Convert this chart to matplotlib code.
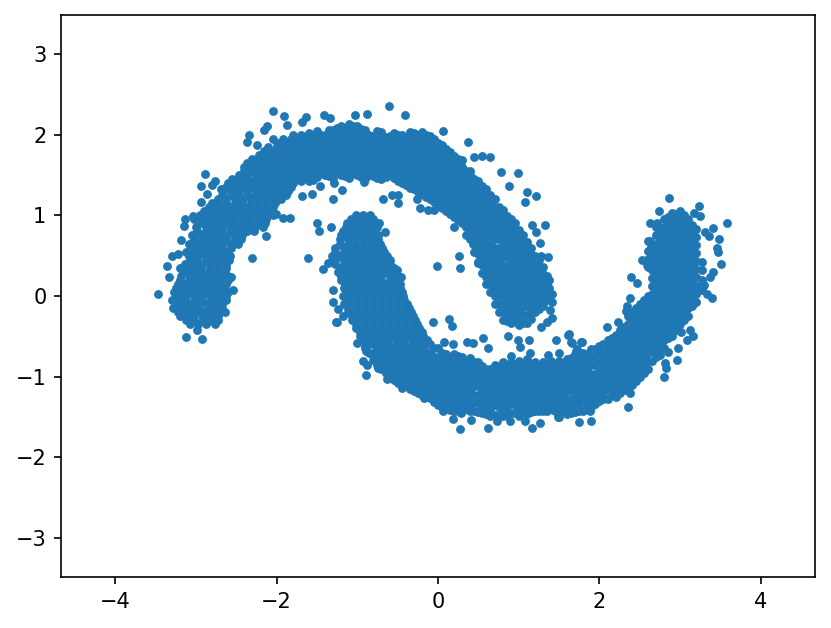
import matplotlib
matplotlib.use('Agg')
import matplotlib.pyplot as plt

# values, y: [x, ...] rows for the arms, x: [y, ...] columns for the arcs
upper_rows = {
    -0.35: [-3.07, -2.97, -2.87, -2.76],
    -0.3: [-3.12, -3.03, -2.92, -2.82, -2.73],
    -0.25: [-3.2, -3.11, -3.02, -2.91, -2.82, -2.72],
    -0.2: [-3.22, -3.12, -3.01, -2.92, -2.81, -2.72, -2.64],
    -0.15: [-3.28, -3.16, -3.06, -2.97, -2.86, -2.77, -2.68],
    -0.1: [-3.25, -3.16, -3.06, -2.96, -2.86, -2.77, -2.67],
    -0.05: [-3.3, -3.21, -3.12, -3.01, -2.92, -2.81, -2.72, -2.62],
    0.0: [-3.23, -3.13, -3.02, -2.92, -2.82, -2.72, -2.63],
    0.05: [-3.27, -3.17, -3.07, -2.96, -2.87, -2.77, -2.67, -2.6],
    0.1: [-3.25, -3.14, -3.04, -2.94, -2.85, -2.75, -2.65],
    0.15: [-3.22, -3.12, -3.02, -2.92, -2.83, -2.72, -2.63],
    0.2: [-3.19, -3.09, -2.99, -2.9, -2.8, -2.7, -2.6],
    0.25: [-3.18, -3.07, -2.97, -2.88, -2.78, -2.68, -2.6],
    0.3: [-3.14, -3.04, -2.94, -2.84, -2.74, -2.64],
    0.35: [-3.2, -3.12, -3.02, -2.93, -2.82, -2.73, -2.63],
    0.4: [-3.13, -3.03, -2.92, -2.82, -2.72, -2.62],
    0.45: [-3.07, -2.98, -2.87, -2.78, -2.68, -2.59],
    0.5: [-3.08, -2.97, -2.88, -2.78, -2.67, -2.58],
    0.55: [-3.12, -3.02, -2.93, -2.83, -2.73, -2.62],
    0.6: [-3.06, -2.97, -2.87, -2.78, -2.67, -2.56],
    0.65: [-3.08, -2.97, -2.88, -2.77, -2.68, -2.58, -2.48],
    0.7: [-3.02, -2.91, -2.82, -2.72, -2.62, -2.52, -2.44],
    0.75: [-3.05, -2.93, -2.83, -2.73, -2.63, -2.53, -2.43],
    0.8: [-2.98, -2.88, -2.78, -2.68, -2.57, -2.47, -2.37, -2.28],
    0.85: [-3.0, -2.88, -2.78, -2.68, -2.58, -2.48, -2.38, -2.27, -2.17],
    0.9: [-2.95, -2.84, -2.74, -2.64, -2.54, -2.44, -2.34, -2.24, -2.14],
    0.95: [-3.02, -2.92, -2.83, -2.72, -2.63, -2.53, -2.42, -2.33, -2.22, -2.13],
    1.0: [-2.95, -2.85, -2.74, -2.64, -2.54, -2.44, -2.34, -2.24, -2.14, -2.04],
    1.05: [-2.9, -2.78, -2.68, -2.58, -2.47, -2.37, -2.28, -2.17, -2.07],
    1.1: [-2.84, -2.74, -2.64, -2.54, -2.44, -2.34, -2.24, -2.14, -2.05],
    1.15: [-2.8, -2.72, -2.63, -2.52, -2.43, -2.32, -2.22, -2.12, -2.02],
    1.2: [-2.72, -2.62, -2.52, -2.42, -2.32, -2.22, -2.12, -2.02, -1.94],
    1.25: [-2.67, -2.57, -2.48, -2.37, -2.27, -2.17, -2.07, -1.97, -1.88],
    1.3: [-2.66, -2.56, -2.46, -2.36, -2.26, -2.16, -2.06, -1.96, -1.86],
    1.35: [-2.62, -2.52, -2.42, -2.32, -2.22, -2.12, -2.02, -1.92, -1.82],
    1.4: [-2.6, -2.5, -2.4, -2.3, -2.2, -2.1, -2.0, -1.9, -1.8],
    1.45: [-2.55, -2.45, -2.37, -2.27, -2.17, -2.07, -1.97, -1.87, -1.77],
    1.5: [-2.46, -2.36, -2.26, -2.16, -2.06, -1.96, -1.86, -1.76, -1.66],
    1.55: [-2.4, -2.32, -2.22, -2.12, -2.02, -1.92, -1.82, -1.72],
    1.6: [-2.4, -2.3, -2.2, -2.1, -2.0, -1.9, -1.8, -1.7],
    1.65: [-2.37, -2.27, -2.17, -2.07, -1.97, -1.87, -1.77, -1.67],
    1.7: [-2.3, -2.2, -2.1, -2.0, -1.9, -1.8, -1.7, -1.62],
    1.75: [-2.22, -2.12, -2.02, -1.92, -1.82, -1.72, -1.62],
    1.8: [-2.16, -2.06, -1.96, -1.86, -1.76, -1.66],
    1.85: [-2.1, -2.0, -1.9, -1.8, -1.7, -1.6],
    1.9: [-2.0, -1.9, -1.8, -1.7, -1.62],
    1.95: [-1.92, -1.82, -1.72, -1.62],
    2.0: [-1.8, -1.7],
}

upper_cols = {
    -1.7: [1.42, 1.52],
    -1.65: [1.47, 1.57, 1.67, 1.77, 1.87, 1.97],
    -1.6: [1.42, 1.52, 1.62, 1.72, 1.82, 1.92, 2.02],
    -1.55: [1.44, 1.54, 1.64, 1.74, 1.84, 1.94, 2.0],
    -1.5: [1.47, 1.57, 1.67, 1.76, 1.86, 1.96, 2.04],
    -1.45: [1.52, 1.62, 1.72, 1.81, 1.91, 2.0],
    -1.4: [1.5, 1.6, 1.7, 1.8, 1.9, 2.0],
    -1.35: [1.48, 1.57, 1.67, 1.77, 1.87, 1.97, 2.05],
    -1.3: [1.46, 1.55, 1.65, 1.75, 1.85, 1.95, 2.05],
    -1.25: [1.53, 1.63, 1.73, 1.83, 1.93, 2.03, 2.08],
    -1.2: [1.5, 1.6, 1.7, 1.8, 1.9, 2.0, 2.1],
    -1.15: [1.48, 1.58, 1.68, 1.78, 1.88, 1.98, 2.08],
    -1.1: [1.46, 1.55, 1.65, 1.75, 1.85, 1.95, 2.05, 2.13],
    -1.05: [1.52, 1.62, 1.72, 1.82, 1.92, 2.02, 2.11],
    -1.0: [1.5, 1.6, 1.7, 1.8, 1.9, 2.0, 2.1],
    -0.95: [1.47, 1.57, 1.67, 1.77, 1.87, 1.97, 2.07],
    -0.9: [1.45, 1.55, 1.65, 1.75, 1.85, 1.95, 2.05],
    -0.85: [1.5, 1.6, 1.7, 1.8, 1.9, 2.0],
    -0.8: [1.48, 1.58, 1.68, 1.78, 1.88, 1.98],
    -0.75: [1.46, 1.56, 1.66, 1.76, 1.86, 1.96, 2.04],
    -0.7: [1.45, 1.55, 1.65, 1.75, 1.85, 1.95, 2.03],
    -0.65: [1.47, 1.57, 1.67, 1.77, 1.87, 1.97],
    -0.6: [1.5, 1.6, 1.7, 1.8, 1.9, 1.98],
    -0.55: [1.46, 1.56, 1.66, 1.76, 1.86, 1.96, 2.02],
    -0.5: [1.42, 1.52, 1.62, 1.72, 1.82, 1.92, 2.0],
    -0.45: [1.4, 1.5, 1.6, 1.7, 1.8, 1.9, 2.0],
    -0.4: [1.37, 1.47, 1.57, 1.67, 1.77, 1.87, 1.97],
    -0.35: [1.34, 1.44, 1.54, 1.64, 1.74, 1.84, 1.94, 2.03],
    -0.3: [1.32, 1.42, 1.52, 1.62, 1.72, 1.82, 1.92, 2.02],
    -0.25: [1.29, 1.39, 1.49, 1.59, 1.69, 1.79, 1.89, 1.99],
    -0.2: [1.26, 1.36, 1.46, 1.56, 1.66, 1.76, 1.86, 1.96, 2.03],
    -0.15: [1.23, 1.33, 1.43, 1.53, 1.63, 1.73, 1.83, 1.93, 2.0],
    -0.1: [1.2, 1.3, 1.4, 1.5, 1.6, 1.7, 1.8, 1.9, 1.98],
    -0.05: [1.17, 1.27, 1.37, 1.47, 1.57, 1.67, 1.77, 1.87, 1.95],
    0.0: [1.13, 1.23, 1.33, 1.43, 1.53, 1.63, 1.73, 1.83, 1.9],
    0.05: [1.09, 1.19, 1.29, 1.39, 1.49, 1.59, 1.69, 1.79, 1.87],
    0.1: [1.05, 1.15, 1.25, 1.35, 1.45, 1.55, 1.65, 1.75, 1.82],
    0.15: [1.02, 1.12, 1.22, 1.32, 1.42, 1.52, 1.62, 1.71, 1.78],
    0.2: [0.98, 1.08, 1.18, 1.28, 1.38, 1.48, 1.58, 1.67, 1.74],
    0.25: [0.94, 1.04, 1.14, 1.24, 1.34, 1.44, 1.54, 1.64, 1.7],
    0.3: [0.9, 1.0, 1.1, 1.2, 1.3, 1.4, 1.5, 1.6, 1.68],
    0.35: [0.75, 0.85, 0.95, 1.05, 1.15, 1.25, 1.35, 1.45, 1.55],
    0.4: [0.7, 0.8, 0.9, 1.0, 1.1, 1.2, 1.3, 1.4, 1.5, 1.55],
    0.45: [0.55, 0.65, 0.75, 0.85, 0.95, 1.05, 1.15, 1.25, 1.35, 1.45],
    0.5: [0.42, 0.52, 0.62, 0.72, 0.82, 0.92, 1.02, 1.12, 1.22, 1.32, 1.42],
    0.55: [0.28, 0.38, 0.48, 0.58, 0.68, 0.78, 0.88, 0.98, 1.08, 1.18, 1.28, 1.36],
    0.6: [0.15, 0.24, 0.33, 0.43, 0.53, 0.63, 0.73, 0.83, 0.93, 1.03, 1.13, 1.23, 1.32],
    0.65: [0.05, 0.15, 0.25, 0.35, 0.45, 0.55, 0.65, 0.75, 0.85, 0.95, 1.05, 1.15, 1.25],
    0.7: [-0.1, 0.0, 0.1, 0.2, 0.3, 0.4, 0.5, 0.6, 0.7, 0.8, 0.9, 1.0, 1.1, 1.2],
    0.75: [-0.2, -0.1, 0.0, 0.1, 0.2, 0.3, 0.4, 0.5, 0.6, 0.7, 0.8, 0.9, 1.0, 1.1],
    0.8: [-0.3, -0.2, -0.1, 0.0, 0.09, 0.18, 0.28, 0.38, 0.48, 0.58, 0.68, 0.78, 0.88, 0.98, 1.06],
    0.85: [-0.31, -0.21, -0.11, -0.01, 0.09, 0.19, 0.29, 0.39, 0.49, 0.59, 0.69, 0.79, 0.89, 0.99],
    0.9: [-0.34, -0.25, -0.15, -0.05, 0.05, 0.15, 0.25, 0.35, 0.45, 0.55, 0.65, 0.75, 0.85, 0.95],
    0.95: [-0.3, -0.2, -0.1, 0.0, 0.1, 0.2, 0.3, 0.4, 0.5, 0.6, 0.7, 0.8, 0.9],
    1.0: [-0.36, -0.28, -0.18, -0.08, 0.02, 0.12, 0.22, 0.32, 0.42, 0.52, 0.62, 0.72, 0.82],
    1.05: [-0.34, -0.24, -0.14, -0.04, 0.06, 0.16, 0.26, 0.36, 0.46, 0.56, 0.66, 0.76],
    1.1: [-0.33, -0.23, -0.13, -0.03, 0.07, 0.17, 0.27, 0.37, 0.47, 0.57, 0.67],
    1.15: [-0.28, -0.18, -0.08, 0.02, 0.12, 0.22, 0.32, 0.42, 0.52, 0.6],
    1.2: [-0.2, -0.1, 0.0, 0.1, 0.2, 0.3, 0.4, 0.5],
    1.25: [-0.16, -0.06, 0.04, 0.14, 0.24, 0.34, 0.44],
    1.3: [-0.13, -0.03, 0.07, 0.17, 0.27, 0.36],
    1.35: [-0.05, 0.05, 0.15, 0.25],
    1.38: [0.0, 0.1, 0.2],
}

upper_stray_x = [-3.47, -3.12, -2.92, -2.98, -3.36, -3.29, -3.22, -3.33, -3.18, -3.14, -3.15, -3.03,
                 -2.93, -2.89, -2.76, -2.8, -2.86, -2.93, -2.69, -2.31, -2.54, -2.56, -2.13, -2.01,
                 -1.92, -1.83, -2.04, -1.91, -1.87, -2.12, -2.15, -2.34, -2.37, -2.24, -2.04, -1.63,
                 -1.69, -1.41, -1.34, -1.03, -0.88, -0.61, -0.41, 0.06, 0.37, 0.44, 0.54, 0.64,
                 0.78, 0.99, 0.88, 1.1, 1.21, 1.08, 1.16, 1.32, 1.22, 1.26, 1.36, 1.27,
                 1.41, 1.41, 1.39, 1.41, 1.28, 1.35, -0.01, 0.26, 0.27, -0.68, -0.57, -0.5,
                 -0.5, -0.22, -0.12, -0.05, -0.26, 0.05, 0.2, 0.43, 0.5, -1.3, -1.19, -1.29,
                 -0.92, -1.56, -1.69, -1.46]
upper_stray_y = [0.02, -0.51, -0.53, -0.42, 0.37, 0.5, 0.52, 0.24, 0.69, 0.95, 0.87, 0.99,
                 1.36, 1.51, 1.42, 1.37, 1.26, 1.17, 1.32, 0.47, 0.08, 0.23, 0.74, 1.01,
                 0.96, 0.97, 2.29, 2.23, 2.12, 2.11, 2.05, 2.0, 1.91, 1.87, 1.94, 2.22,
                 2.15, 2.24, 2.2, 2.24, 2.25, 2.35, 2.24, 2.04, 1.91, 1.72, 1.74, 1.72,
                 1.53, 1.52, 1.36, 1.29, 1.24, 1.17, 0.88, 0.88, 0.79, 0.66, 0.48, 0.49,
                 0.03, -0.08, -0.17, -0.27, -0.38, -0.32, 0.37, 0.5, 0.35, 1.2, 1.25, 1.25,
                 1.15, 1.09, 1.06, 1.06, 1.2, 1.13, 0.85, 0.65, 0.41, 1.2, 1.31, 1.4,
                 1.41, 1.26, 1.24, 1.36]

lower_rows = {
    1.0: [-1.02, -0.93, -0.84],
    0.95: [-1.08, -0.98, -0.89, -0.8],
    0.9: [-1.13, -1.03, -0.94, -0.84, -0.76],
    0.85: [-1.14, -1.04, -0.94, -0.84, -0.75],
    0.8: [-1.18, -1.08, -0.98, -0.88, -0.79],
    0.75: [-1.2, -1.1, -1.0, -0.9, -0.8, -0.74],
    0.7: [-1.22, -1.12, -1.03, -0.93, -0.83, -0.74],
    0.65: [-1.22, -1.12, -1.02, -0.92, -0.82, -0.72],
    0.6: [-1.27, -1.17, -1.07, -0.97, -0.87, -0.77, -0.69],
    0.55: [-1.27, -1.17, -1.07, -0.97, -0.87, -0.77, -0.67],
    0.5: [-1.31, -1.22, -1.12, -1.02, -0.92, -0.82, -0.72, -0.63],
    0.45: [-1.27, -1.17, -1.07, -0.97, -0.87, -0.77, -0.67, -0.6],
    0.4: [-1.27, -1.17, -1.07, -0.97, -0.87, -0.77, -0.67, -0.6],
    0.35: [-1.22, -1.12, -1.02, -0.92, -0.82, -0.72, -0.62, -0.55],
    0.3: [-1.24, -1.14, -1.04, -0.94, -0.84, -0.74, -0.64, -0.55],
    0.25: [-1.2, -1.1, -1.0, -0.9, -0.8, -0.7, -0.6, -0.5],
    0.2: [-1.2, -1.1, -1.0, -0.9, -0.8, -0.7, -0.6, -0.51],
    0.15: [-1.15, -1.05, -0.95, -0.85, -0.75, -0.65, -0.55, -0.47],
    0.1: [-1.17, -1.07, -0.97, -0.87, -0.77, -0.67, -0.57, -0.47],
    0.05: [-1.14, -1.04, -0.94, -0.84, -0.74, -0.64, -0.54, -0.44],
    0.0: [-1.18, -1.12, -1.02, -0.92, -0.82, -0.72, -0.62, -0.52, -0.43],
    -0.05: [-1.12, -1.02, -0.92, -0.82, -0.72, -0.62, -0.52, -0.42],
    -0.1: [-1.17, -1.07, -0.97, -0.87, -0.77, -0.67, -0.57, -0.47, -0.39],
    -0.15: [-1.12, -1.02, -0.92, -0.82, -0.72, -0.62, -0.52, -0.42, -0.36],
    -0.2: [-1.12, -1.02, -0.92, -0.82, -0.72, -0.62, -0.52, -0.42, -0.34],
    -0.25: [-1.07, -0.97, -0.87, -0.77, -0.67, -0.57, -0.47, -0.37, -0.31],
    -0.3: [-1.07, -0.97, -0.87, -0.77, -0.67, -0.57, -0.47, -0.37, -0.29],
    -0.35: [-1.02, -0.92, -0.82, -0.72, -0.62, -0.52, -0.42, -0.32, -0.26],
    -0.4: [-1.02, -0.92, -0.82, -0.72, -0.62, -0.52, -0.42, -0.32, -0.24],
    -0.45: [-0.97, -0.87, -0.77, -0.67, -0.57, -0.47, -0.37, -0.27, -0.2],
    -0.5: [-0.97, -0.87, -0.77, -0.67, -0.57, -0.47, -0.37, -0.27, -0.18],
    -0.55: [-0.92, -0.82, -0.72, -0.62, -0.52, -0.42, -0.32, -0.22, -0.14],
}

lower_cols = {
    -0.9: [-0.65, -0.62],
    -0.85: [-0.6, -0.7],
    -0.8: [-0.6, -0.7, -0.79],
    -0.75: [-0.65, -0.75, -0.85],
    -0.7: [-0.6, -0.7, -0.8, -0.9],
    -0.65: [-0.65, -0.75, -0.85, -0.95],
    -0.6: [-0.62, -0.71, -0.81, -0.91, -1.0],
    -0.55: [-0.65, -0.75, -0.85, -0.95, -1.04],
    -0.5: [-0.58, -0.68, -0.78, -0.88, -0.98, -1.08],
    -0.45: [-0.65, -0.75, -0.85, -0.95, -1.05],
    -0.4: [-0.62, -0.72, -0.82, -0.92, -1.02, -1.12],
    -0.35: [-0.65, -0.75, -0.85, -0.95, -1.05, -1.15],
    -0.3: [-0.58, -0.68, -0.78, -0.88, -0.98, -1.08, -1.18],
    -0.25: [-0.62, -0.72, -0.82, -0.92, -1.02, -1.12, -1.2],
    -0.2: [-0.55, -0.64, -0.74, -0.84, -0.94, -1.04, -1.14, -1.22],
    -0.15: [-0.6, -0.69, -0.79, -0.89, -0.99, -1.09, -1.19, -1.25],
    -0.1: [-0.6, -0.7, -0.8, -0.9, -1.0, -1.1, -1.2, -1.26],
    -0.05: [-0.65, -0.75, -0.85, -0.95, -1.05, -1.15, -1.25, -1.31],
    0.0: [-0.65, -0.75, -0.85, -0.95, -1.05, -1.15, -1.25, -1.35],
    0.05: [-0.7, -0.8, -0.9, -1.0, -1.1, -1.2, -1.3, -1.38],
    0.1: [-0.72, -0.82, -0.92, -1.02, -1.12, -1.22, -1.32, -1.38],
    0.15: [-0.76, -0.86, -0.96, -1.06, -1.16, -1.26, -1.36, -1.41],
    0.2: [-0.72, -0.8, -0.9, -1.0, -1.1, -1.2, -1.3, -1.42],
    0.25: [-0.74, -0.84, -0.94, -1.04, -1.14, -1.24, -1.34, -1.42],
    0.3: [-0.75, -0.85, -0.95, -1.05, -1.15, -1.25, -1.35, -1.42],
    0.35: [-0.8, -0.9, -1.0, -1.1, -1.2, -1.3, -1.4],
    0.4: [-0.77, -0.86, -0.96, -1.06, -1.16, -1.26, -1.36, -1.43],
    0.45: [-0.82, -0.92, -1.02, -1.12, -1.22, -1.32, -1.42],
    0.5: [-0.82, -0.92, -1.02, -1.12, -1.22, -1.32, -1.44],
    0.55: [-0.87, -0.97, -1.07, -1.17, -1.27, -1.37, -1.45],
    0.6: [-0.9, -1.0, -1.1, -1.2, -1.3, -1.4, -1.46],
    0.65: [-0.9, -1.0, -1.1, -1.2, -1.3, -1.4, -1.48],
    0.7: [-0.85, -0.95, -1.05, -1.15, -1.25, -1.35, -1.47],
    0.75: [-0.87, -0.97, -1.07, -1.17, -1.27, -1.37, -1.47],
    0.8: [-0.82, -0.92, -1.02, -1.12, -1.22, -1.32, -1.42, -1.49],
    0.85: [-0.87, -0.97, -1.07, -1.17, -1.27, -1.37, -1.47],
    0.9: [-0.82, -0.93, -1.03, -1.13, -1.23, -1.33, -1.45],
    0.95: [-0.85, -0.95, -1.05, -1.15, -1.25, -1.35, -1.45],
    1.0: [-0.8, -0.9, -1.0, -1.1, -1.2, -1.3, -1.4, -1.48],
    1.05: [-0.83, -0.93, -1.03, -1.13, -1.23, -1.33, -1.43],
    1.1: [-0.78, -0.88, -0.98, -1.08, -1.18, -1.28, -1.38, -1.46],
    1.15: [-0.85, -0.95, -1.05, -1.15, -1.25, -1.35, -1.44],
    1.2: [-0.82, -0.92, -1.02, -1.12, -1.22, -1.32, -1.42],
    1.25: [-0.87, -0.97, -1.07, -1.17, -1.27, -1.37, -1.43],
    1.3: [-0.82, -0.9, -1.0, -1.1, -1.2, -1.3, -1.42],
    1.35: [-0.85, -0.95, -1.05, -1.15, -1.25, -1.35, -1.42],
    1.4: [-0.8, -0.9, -1.0, -1.1, -1.2, -1.3, -1.4],
    1.45: [-0.85, -0.95, -1.05, -1.15, -1.25, -1.35, -1.42],
    1.5: [-0.8, -0.88, -0.98, -1.08, -1.18, -1.28, -1.38, -1.44],
    1.55: [-0.83, -0.93, -1.03, -1.13, -1.23, -1.33, -1.43],
    1.6: [-0.78, -0.88, -0.98, -1.08, -1.18, -1.28, -1.38, -1.46],
    1.65: [-0.77, -0.87, -0.97, -1.07, -1.17, -1.27, -1.37, -1.45],
    1.7: [-0.72, -0.82, -0.92, -1.02, -1.12, -1.22, -1.32, -1.44],
    1.75: [-0.75, -0.85, -0.95, -1.05, -1.15, -1.25, -1.35, -1.43],
    1.8: [-0.7, -0.8, -0.9, -1.0, -1.1, -1.2, -1.3, -1.42],
    1.85: [-0.72, -0.82, -0.92, -1.02, -1.12, -1.22, -1.32, -1.4],
    1.9: [-0.66, -0.76, -0.86, -0.96, -1.06, -1.16, -1.26, -1.38],
    1.95: [-0.66, -0.76, -0.86, -0.96, -1.06, -1.16, -1.26, -1.34],
    2.0: [-0.62, -0.72, -0.82, -0.92, -1.02, -1.12, -1.22, -1.3],
    2.05: [-0.6, -0.7, -0.8, -0.9, -1.0, -1.1, -1.2, -1.28],
    2.1: [-0.55, -0.65, -0.75, -0.85, -0.95, -1.05, -1.15, -1.28],
    2.15: [-0.52, -0.62, -0.72, -0.82, -0.92, -1.02, -1.12, -1.22],
    2.2: [-0.48, -0.58, -0.68, -0.78, -0.88, -0.98, -1.08, -1.18, -1.25],
    2.25: [-0.42, -0.52, -0.62, -0.72, -0.82, -0.92, -1.02, -1.12, -1.2],
    2.3: [-0.38, -0.48, -0.58, -0.68, -0.78, -0.88, -0.98, -1.08, -1.16],
    2.35: [-0.25, -0.35, -0.45, -0.55, -0.65, -0.75, -0.85, -0.95, -1.05, -1.14],
    2.4: [-0.2, -0.3, -0.4, -0.5, -0.6, -0.7, -0.8, -0.9, -1.0, -1.1],
    2.45: [-0.15, -0.25, -0.35, -0.45, -0.55, -0.65, -0.75, -0.85, -0.95, -1.05],
    2.5: [-0.1, -0.2, -0.3, -0.4, -0.5, -0.6, -0.7, -0.8, -0.9, -1.0],
    2.55: [-0.05, -0.15, -0.25, -0.35, -0.45, -0.55, -0.65, -0.75, -0.85, -0.95],
    2.6: [0.0, -0.1, -0.2, -0.3, -0.4, -0.5, -0.6, -0.7, -0.8, -0.9, 0.36, 0.46, 0.56, 0.68],
    2.65: [0.62, 0.52, 0.42, 0.32, 0.22, 0.12, 0.02, -0.08, -0.18, -0.28, -0.38, -0.48, -0.58, -0.68, -0.8],
    2.7: [0.85, 0.75, 0.65, 0.55, 0.45, 0.35, 0.25, 0.15, 0.05, -0.05, -0.15, -0.25, -0.35, -0.45, -0.55, -0.65, -0.75],
    2.75: [0.8, 0.7, 0.6, 0.5, 0.4, 0.3, 0.2, 0.1, 0.0, -0.1, -0.2, -0.3, -0.4, -0.5, -0.6, -0.68],
    2.8: [0.95, 0.85, 0.75, 0.65, 0.55, 0.45, 0.35, 0.25, 0.15, 0.05, -0.05, -0.15, -0.25, -0.35, -0.45, -0.55, -0.65],
    2.85: [0.98, 0.88, 0.78, 0.68, 0.58, 0.48, 0.38, 0.28, 0.18, 0.08, -0.02, -0.12, -0.22, -0.32, -0.42, -0.52],
    2.9: [1.03, 0.93, 0.83, 0.73, 0.63, 0.53, 0.43, 0.33, 0.23, 0.13, 0.03, -0.07, -0.17, -0.27, -0.37, -0.5],
    2.95: [0.98, 0.88, 0.78, 0.68, 0.58, 0.48, 0.38, 0.28, 0.18, 0.08, -0.02, -0.12, -0.22, -0.32, -0.42],
    3.0: [1.05, 0.95, 0.85, 0.75, 0.65, 0.55, 0.45, 0.35, 0.25, 0.15, 0.05, -0.05, -0.15, -0.25, -0.35],
    3.05: [1.0, 0.9, 0.8, 0.7, 0.6, 0.5, 0.4, 0.3, 0.2, 0.1, 0.0, -0.1, -0.2, -0.3],
    3.1: [0.95, 0.85, 0.75, 0.65, 0.55, 0.45, 0.35, 0.25, 0.15, 0.05, -0.05, -0.15, -0.25],
    3.15: [0.88, 0.78, 0.68, 0.58, 0.48, 0.38, 0.28, 0.18, 0.08, -0.02, -0.12],
    3.2: [0.83, 0.73, 0.63, 0.53, 0.43, 0.33, 0.23, 0.13, 0.03, -0.07],
    3.27: [0.42, 0.32, 0.2, 0.08],
}

lower_stray_x = [-1.5, -1.47, -1.33, -1.61, -0.73, -0.66, -0.51, -0.46, -1.42, -1.36, -1.3, -1.3,
                 -1.24, -1.25, -1.18, -0.32, -0.06, 0.14, 0.17, 0.56, 0.87, 0.99, 1.02, 1.13,
                 1.46, 1.61, 1.36, 1.5, -1.26, -1.0, -0.89, -0.93, -0.88, -0.76, -0.74, -0.89,
                 -0.63, -0.45, -0.17, 0.06, 0.19, 0.27, 0.28, 0.41, 0.62, 0.73, 0.89, 1.08,
                 1.16, 1.26, 1.5, 1.75, 0.07, 0.19, 0.36, 0.43, 0.62, 0.9, 1.14, 1.62,
                 1.66, 1.78, 1.72, 2.86, 2.74, 3.23, 3.17, 3.24, 2.93, 3.58, 2.63, 2.71,
                 3.41, 3.31, 3.36, 3.48, 3.45, 3.47, 3.5, 3.41, 3.37, 3.29, 3.2, 3.33,
                 3.39, 2.63, 2.64, 2.53, 2.59, 2.39, 2.46, 2.38, 2.34, 2.33, 2.09, 2.23,
                 3.01, 3.12, 3.16, 3.08, 2.97, 2.96, 2.85, 2.75, 2.81, 2.82, 2.8, 2.35,
                 2.38, 1.89, 1.88, 1.49, 1.65, 1.77, 1.71, 3.15]
lower_stray_y = [0.91, 0.81, 0.85, 0.47, 0.9, 0.79, 0.32, 0.24, 0.34, 0.41, 0.08, -0.07,
                 -0.16, -0.32, -0.25, -0.23, -0.32, -0.29, -0.37, -0.52, -0.5, -0.54, -0.63, -0.54,
                 -0.55, -0.48, -0.73, -0.71, -0.32, -0.58, -0.68, -0.81, -0.86, -0.81, -0.89, -0.98,
                 -1.03, -1.14, -1.26, -1.42, -1.52, -1.65, -1.45, -1.53, -1.63, -1.55, -1.55, -1.55,
                 -1.63, -1.57, -1.5, -1.56, -0.57, -0.59, -0.57, -0.58, -0.64, -0.74, -0.7, -0.47,
                 -0.58, -0.57, -0.66, 1.21, 1.05, 1.11, 1.03, 0.99, 1.01, 0.91, 0.9, 0.9,
                 0.84, 0.79, 0.74, 0.7, 0.6, 0.54, 0.4, 0.3, 0.24, 0.14, 0.12, 0.02,
                 -0.02, 0.68, 0.61, 0.45, 0.38, 0.24, 0.16, -0.02, -0.12, -0.18, -0.38, -0.32,
                 -0.44, -0.42, -0.49, -0.54, -0.65, -0.79, -0.69, -0.73, -0.83, -0.89, -1.0, -1.37,
                 -1.2, -1.55, -1.43, -1.5, -0.57, -0.57, -0.68, -0.09]

xs, ys = [], []
for rows in (upper_rows, lower_rows):
    for y, row in rows.items():
        xs += row
        ys += [y] * len(row)
for cols in (upper_cols, lower_cols):
    for x, col in cols.items():
        xs += [x] * len(col)
        ys += col
xs += upper_stray_x + lower_stray_x
ys += upper_stray_y + lower_stray_y

fig = plt.figure(figsize=(831 / 150, 628 / 150), dpi=150)
ax = fig.add_axes([61 / 831, 51 / 628, 754 / 831, 562 / 628])
ax.scatter(xs, ys, s=18, color='#1f77b4', linewidths=0)
ax.set_xlim(-4.67, 4.67)
ax.set_ylim(-3.48, 3.48)
ax.set_xticks([-4, -2, 0, 2, 4])
ax.set_yticks([-3, -2, -1, 0, 1, 2, 3])

fig.savefig('out.png', dpi=150)
